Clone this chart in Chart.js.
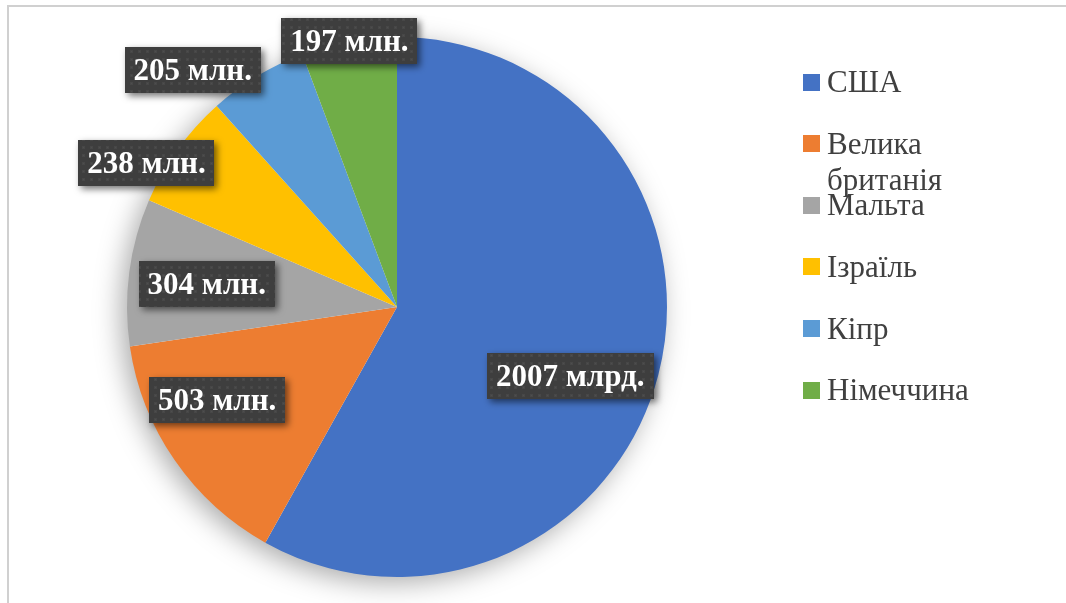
<!DOCTYPE html>
<html><head><meta charset="utf-8">
<script src="https://cdn.jsdelivr.net/npm/chart.js@4.4.0/dist/chart.umd.min.js"></script>
<style>
html,body{margin:0;padding:0;background:#fff;}
#wrap{position:relative;width:1066px;height:603px;overflow:hidden;background:#fff;}
#frame{position:absolute;left:7px;top:5px;width:1100px;height:700px;border-left:2px solid #d0d0d0;border-top:2px solid #d0d0d0;}
canvas{position:absolute;left:0;top:0;}
</style></head><body>
<div id="wrap"><div id="frame"></div><canvas id="c" width="1066" height="603"></canvas></div>
<script>
const categories = ['США','Велика британія','Мальта','Ізраїль','Кіпр','Німеччина'];
const values = [2007,503,304,238,205,197];
const valueLabels = ['2007 млрд.','503 млн.','304 млн.','238 млн.','205 млн.','197 млн.'];
const colors = ['#4472C4','#ED7D31','#A5A5A5','#FFC000','#5B9BD5','#70AD47'];

// label placement relative to each slice: [radius fraction, angle offset in degrees]
const labelPlacement = [[0.69,7],[0.75,7.3],[0.71,-0.5],[1.07,-5.8],[1.16,-9.5],[1.0,0.1]];

function makePattern(ctx){
  const t=document.createElement('canvas'); t.width=8; t.height=8;
  const g=t.getContext('2d');
  g.fillStyle='#3e3e3e'; g.fillRect(0,0,8,8);
  g.fillStyle='rgba(255,255,255,0.05)'; g.fillRect(2,2,3,3);
  g.fillStyle='rgba(255,255,255,0.04)'; g.fillRect(3,3,1,1);
  return ctx.createPattern(t,'repeat');
}

const pieShadow = {
  id:'pieShadow',
  beforeDatasetsDraw(chart){
    const a=chart.getDatasetMeta(0).data[0]; if(!a) return;
    const ctx=chart.ctx; ctx.save();
    ctx.shadowColor='rgba(0,0,0,0.35)'; ctx.shadowBlur=28; ctx.shadowOffsetX=-6; ctx.shadowOffsetY=6;
    ctx.fillStyle='#fff'; ctx.beginPath(); ctx.arc(a.x,a.y,a.outerRadius-1,0,Math.PI*2); ctx.fill();
    ctx.restore();
  }
};

const boxLabels = {
  id:'boxLabels',
  afterDatasetsDraw(chart){
    const ctx=chart.ctx; const meta=chart.getDatasetMeta(0);
    const pat=makePattern(ctx);
    ctx.save();
    ctx.font='bold 31px "Liberation Serif", "Times New Roman", serif';
    meta.data.forEach((arc,i)=>{
      const p=arc.getProps(['x','y','startAngle','endAngle','outerRadius'],true);
      const [rf,da]=labelPlacement[i];
      const ang=(p.startAngle+p.endAngle)/2+da*Math.PI/180;
      const cx=p.x+Math.cos(ang)*p.outerRadius*rf, cy=p.y+Math.sin(ang)*p.outerRadius*rf;
      const txt=valueLabels[i];
      const tw=ctx.measureText(txt).width;
      const w=tw+18, h=46;
      ctx.save();
      ctx.shadowColor='rgba(0,0,0,0.55)'; ctx.shadowBlur=7; ctx.shadowOffsetX=3; ctx.shadowOffsetY=3;
      ctx.fillStyle=pat; ctx.fillRect(Math.round(cx-w/2),Math.round(cy-h/2),Math.round(w),h);
      ctx.restore();
      ctx.fillStyle='#ffffff'; ctx.textAlign='center'; ctx.textBaseline='middle';
      ctx.fillText(txt,cx,cy+2);
    });
    ctx.restore();
  }
};

const sideLegend = {
  id:'sideLegend',
  afterDraw(chart,args,opts){
    const ctx=chart.ctx; ctx.save();
    ctx.font=opts.font; ctx.textBaseline='middle'; ctx.textAlign='left';
    const labels=chart.data.labels, bg=chart.data.datasets[0].backgroundColor;
    labels.forEach((lab,i)=>{
      const y=opts.top+i*opts.spacing;
      ctx.fillStyle=bg[i];
      ctx.fillRect(opts.x,Math.round(y-opts.box/2),opts.box,opts.box);
      ctx.fillStyle=opts.color;
      const words=lab.split(' '); const lines=[]; let cur='';
      words.forEach(w=>{const t=cur?cur+' '+w:w; if(ctx.measureText(t).width>opts.maxWidth&&cur){lines.push(cur);cur=w;}else cur=t;});
      if(cur) lines.push(cur);
      lines.forEach((ln,k)=>ctx.fillText(ln,opts.x+opts.box+7,y+2+k*opts.lineHeight));
    });
    ctx.restore();
  }
};

new Chart(document.getElementById('c'),{
  type:'pie',
  data:{labels:categories,datasets:[{data:values,backgroundColor:colors,borderWidth:0,hoverOffset:0}]},
  options:{
    responsive:false, animation:false, devicePixelRatio:1,
    layout:{padding:{left:127,right:399,top:37,bottom:26}},
    plugins:{
      legend:{display:false}, tooltip:{enabled:false},
      sideLegend:{x:803,top:82,spacing:61.6,box:17,font:'31px "Liberation Serif", "Times New Roman", serif',color:'#404040',maxWidth:170,lineHeight:36}
    }
  },
  plugins:[pieShadow,boxLabels,sideLegend]
});
</script>
</body></html>
